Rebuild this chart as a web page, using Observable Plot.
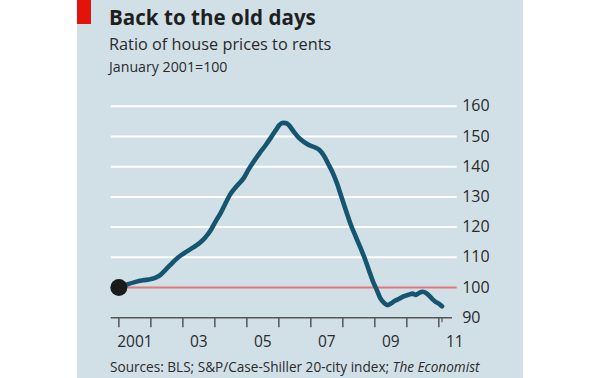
<!DOCTYPE html>
<html>
<head>
<meta charset="utf-8">
<script src="https://cdn.jsdelivr.net/npm/d3@7"></script>
<script src="https://cdn.jsdelivr.net/npm/@observablehq/plot@0.6"></script>
<style>
  html, body { margin: 0; padding: 0; background: #ffffff; }
  #wrap { position: relative; width: 610px; height: 378px; overflow: hidden; background: #ffffff; font-family: "Open Sans", sans-serif; }
  #panel { position: absolute; left: 77px; top: 0; width: 446px; height: 378px; background: #d1e0e7; }
  #redbox { position: absolute; left: 77px; top: 0; width: 14px; height: 24px; background: #e3120b; }
  .t { position: absolute; left: 109px; white-space: nowrap; line-height: 1; color: #1f1f1f; }
  #title { top: 6.5px; font-size: 20.6px; font-weight: 700; }
  #subtitle { top: 35.5px; font-size: 16.3px; color: #2a2a2a; }
  #unit { top: 60px; font-size: 14.2px; color: #2a2a2a; }
  #source { top: 359.5px; left: 110px; font-size: 13.6px; color: #2a2a2a; }
  #chart { position: absolute; left: 0; top: 90px; }
</style>
</head>
<body>
<div id="wrap">
  <div id="panel"></div>
  <div id="redbox"></div>
  <div class="t" id="title">Back to the old days</div>
  <div class="t" id="subtitle">Ratio of house prices to rents</div>
  <div class="t" id="unit">January 2001=100</div>
  <div id="chart"></div>
  <div class="t" id="source">Sources: BLS; S&amp;P/Case-Shiller 20-city index; <i>The Economist</i></div>
</div>
<script>
// Decimal year of each reading
const years = [
  2001.00, 2001.25, 2001.50, 2001.75, 2002.00, 2002.15, 2002.30, 2002.45, 2002.60, 2002.75,
  2002.93, 2003.10, 2003.25, 2003.40, 2003.55, 2003.70, 2003.87, 2004.03, 2004.18, 2004.33,
  2004.49, 2004.70, 2004.90, 2005.05, 2005.22, 2005.40, 2005.58, 2005.75, 2005.90, 2006.02,
  2006.12, 2006.22, 2006.31, 2006.45, 2006.62, 2006.78, 2006.93, 2007.10, 2007.26, 2007.40,
  2007.55, 2007.70, 2007.82, 2007.95, 2008.10, 2008.25, 2008.41, 2008.55, 2008.70, 2008.82,
  2008.95, 2009.05, 2009.17, 2009.30, 2009.40, 2009.50, 2009.62, 2009.76, 2009.90, 2010.05,
  2010.18, 2010.28, 2010.38, 2010.50, 2010.60, 2010.70, 2010.80, 2010.90, 2011.01, 2011.10
];
// Ratio of house prices to rents, January 2001 = 100
const ratio = [
  100.0, 101.0, 101.8, 102.4, 102.8, 103.3, 104.2, 105.8, 107.4, 109.0,
  110.6, 111.8, 112.8, 113.8, 115.0, 116.6, 119.0, 122.0, 124.6, 127.8,
  131.0, 133.8, 136.2, 139.0, 141.8, 144.5, 147.0, 149.6, 152.0, 153.8,
  154.5, 154.4, 153.8, 151.8, 149.6, 148.2, 147.2, 146.5, 145.6, 143.8,
  140.8, 137.6, 134.4, 130.2, 125.4, 120.8, 116.7, 113.2, 109.2, 105.6,
  101.8, 99.5, 96.5, 94.8, 94.2, 94.7, 95.6, 96.3, 97.1, 97.6,
  98.0, 97.6, 98.2, 98.6, 98.2, 97.3, 96.2, 95.3, 94.6, 93.8
];
const yTicks = [90, 100, 110, 120, 130, 140, 150, 160];
const gridValues = [110, 120, 130, 140, 150, 160];
const baseValue = 100;
const yearTicks = d3.range(2001, 2012);
const labelYears = [2001, 2003, 2005, 2007, 2009, 2011];
const labelText = ["2001", "03", "05", "07", "09", "11"];

const data = years.map((x, i) => ({x, y: ratio[i]}));
const labels = labelYears.map((x, i) => ({x: x + 0.5, t: labelText[i]}));
const last = data[data.length - 1];

const plot = Plot.plot({
  width: 610,
  height: 265,
  marginLeft: 110.7,
  marginRight: 153.3,
  marginTop: 15.7,
  marginBottom: 37.7,
  style: {background: "transparent", fontFamily: "Open Sans, sans-serif", overflow: "visible"},
  x: {domain: [2000.76, 2011.575], axis: null, label: null},
  y: {domain: [90, 160], label: null},
  marks: [
    Plot.ruleY(gridValues, {stroke: "#ffffff", strokeWidth: 2}),
    Plot.ruleY([baseValue], {stroke: "#e8767b", strokeWidth: 2}),
    Plot.ruleY([90], {x1: 2000.76, x2: 2011.43, stroke: "#555555", strokeWidth: 1.5}),
    Plot.axisX({ticks: yearTicks, tickSize: 10, tickFormat: () => "", label: null, stroke: "#555555", strokeWidth: 1.5}),
    Plot.axisX({ticks: [last.x], tickSize: 5, tickFormat: () => "", label: null, stroke: "#555555", strokeWidth: 1.2}),
    Plot.axisY({anchor: "right", ticks: yTicks, tickSize: 0, tickPadding: 5, fontSize: 16, fill: "#2a2a2a", label: null}),
    Plot.text(labels, {x: "x", text: "t", frameAnchor: "bottom", dy: 24.4, lineAnchor: "middle", fontSize: 15.5, fill: "#2a2a2a"}),
    Plot.line(data, {x: "x", y: "y", stroke: "#155570", strokeWidth: 4.6, curve: "monotone-x", strokeLinejoin: "round", strokeLinecap: "round"}),
    Plot.dot([data[0]], {x: "x", y: "y", r: 8.5, fill: "#1a1a1a", stroke: null})
  ]
});
document.getElementById("chart").appendChild(plot);
</script>
</body>
</html>
